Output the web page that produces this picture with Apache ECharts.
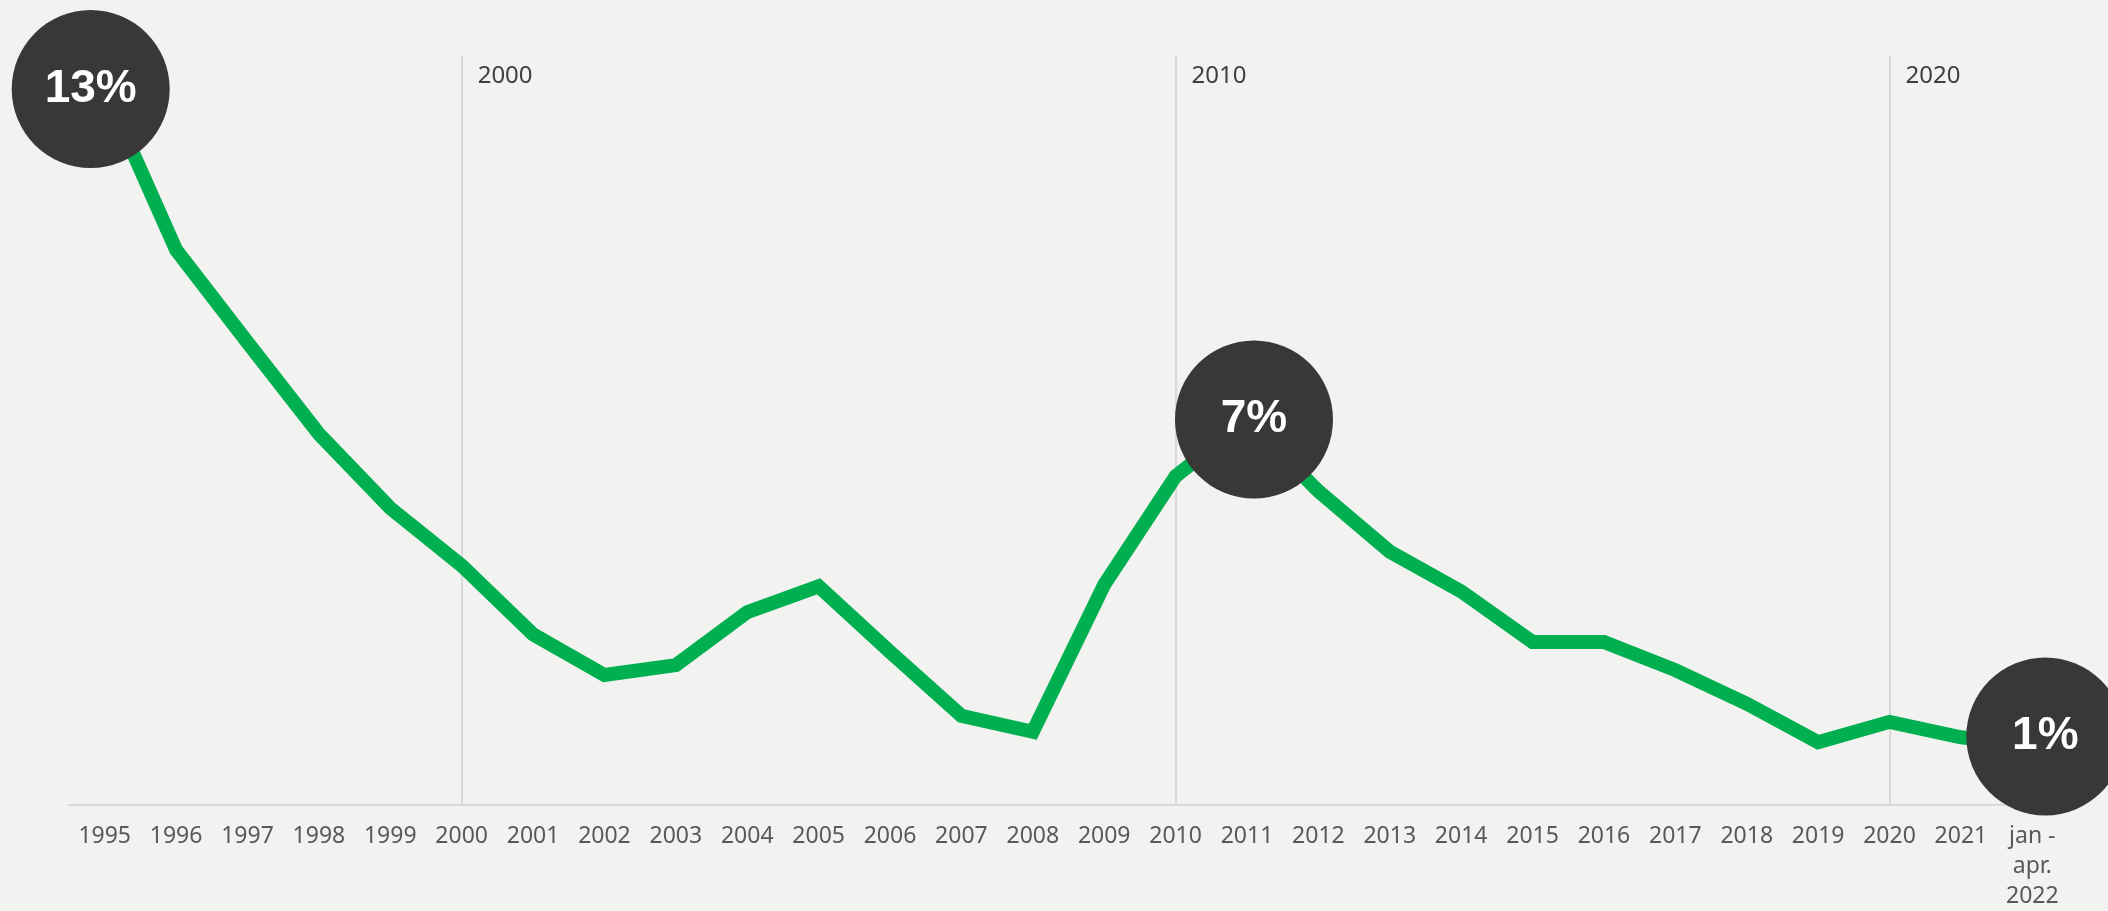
<!DOCTYPE html>
<html>
<head>
<meta charset="utf-8">
<script src="https://cdn.jsdelivr.net/npm/echarts@6/dist/echarts.min.js"></script>
<style>
  html, body { margin: 0; padding: 0; background: #F2F2F0; overflow: hidden; }
  #chart { width: 100vw; height: 100vh; }
</style>
</head>
<body>
<div id="chart"></div>
<script>
const categories = ['1995','1996','1997','1998','1999','2000','2001','2002','2003','2004','2005','2006','2007','2008','2009','2010','2011','2012','2013','2014','2015','2016','2017','2018','2019','2020','2021','jan -\napr.\n2022'];
const values = [13.0, 10.08, 8.4, 6.74, 5.39, 4.35, 3.1, 2.36, 2.54, 3.5, 3.97, 2.78, 1.62, 1.33, 4.0, 5.97, 7.0, 5.7, 4.6, 3.88, 2.96, 2.96, 2.45, 1.84, 1.14, 1.51, 1.23, 1.1];
const highlighted = ['1995', '2011', 'jan -\napr.\n2022'];
const decadeLines = ['2000', '2010', '2020'];

const bubbleOffsets = { '1995': [-14, 0], '2011': [7, 0], 'jan -\napr.\n2022': [13, -8] };

const seriesData = values.map((v, i) => {
  const cat = categories[i];
  if (highlighted.includes(cat)) {
    return {
      value: v,
      symbol: 'circle',
      symbolSize: 158,
      symbolOffset: bubbleOffsets[cat],
      itemStyle: { color: '#3A3836' },
      label: {
        show: true,
        position: 'inside',
        formatter: (p) => Math.round(p.value) + '%',
        color: '#FFFFFF',
        fontFamily: 'Liberation Sans, Noto Sans, sans-serif',
        fontWeight: 'bold',
        fontSize: 46
      }
    };
  }
  return { value: v, symbol: 'none' };
});

const chart = echarts.init(document.getElementById('chart'));
chart.setOption({
  backgroundColor: '#F2F2F0',
  animation: false,
  grid: { left: 69, right: 40, top: 56, bottom: 100, containLabel: false },
  xAxis: {
    type: 'category',
    data: categories,
    boundaryGap: true,
    axisTick: { show: false },
    axisLine: { lineStyle: { color: '#D9D9D9', width: 2 } },
    axisLabel: {
      interval: 0,
      margin: 16,
      color: '#595959',
      fontFamily: 'Liberation Sans Narrow, Noto Sans, sans-serif',
      fontSize: 23,
      lineHeight: 30
    },
    splitLine: { show: false }
  },
  yAxis: {
    type: 'value',
    min: 0,
    max: 13.6,
    show: false,
    splitLine: { show: false }
  },
  series: [{
    type: 'line',
    data: seriesData,
    lineStyle: { color: '#00B050', width: 14, join: 'miter' },
    itemStyle: { color: '#00B050' },
    z: 3,
    markLine: {
      silent: true,
      symbol: ['none', 'none'],
      z: 1,
      lineStyle: { color: '#D9D9D9', width: 2, type: 'solid' },
      label: {
        show: true,
        position: 'end',
        align: 'left',
        verticalAlign: 'top',
        distance: 0,
        padding: [8, 0, 0, 16],
        formatter: (p) => p.value,
        color: '#3F3F3F',
        fontFamily: 'Liberation Sans Narrow, Noto Sans, sans-serif',
        fontSize: 24
      },
      data: decadeLines.map(d => ({ xAxis: d }))
    }
  }]
});
</script>
</body>
</html>
